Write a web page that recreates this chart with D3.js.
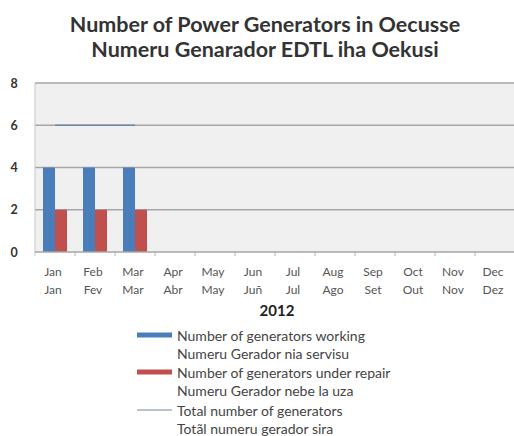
<!DOCTYPE html>
<html><head><meta charset="utf-8">
<script src="https://cdn.jsdelivr.net/npm/d3@7"></script>
<style>body{margin:0;background:#fff}svg{display:block}</style>
</head><body>
<script>
const monthsEn = ["Jan","Feb","Mar","Apr","May","Jun","Jul","Aug","Sep","Oct","Nov","Dec"];
const monthsTet = ["Jan","Fev","Mar","Abr","May","Juñ","Jul","Ago","Set","Out","Nov","Dez"];
const working = [4,4,4,null,null,null,null,null,null,null,null,null];
const repair = [2,2,2,null,null,null,null,null,null,null,null,null];
const total = [6,6,6,null,null,null,null,null,null,null,null,null];
const yTicks = [0,2,4,6,8];
const titleLines = ["Number of Power Generators in Oecusse","Numeru Genarador EDTL iha Oekusi"];
const xTitle = "2012";
const legendItems = [
  {type:"bar", color:"#4a7ebb", lines:["Number of generators working","Numeru Gerador nia servisu"]},
  {type:"bar", color:"#c0504d", lines:["Number of generators under repair","Numeru Gerador nebe la uza"]},
  {type:"line", color:"#7088a8", lines:["Total number of generators","Totãl numeru gerador sira"]}
];

const W=514,H=436;
const svg=d3.select("body").append("svg").attr("width",W).attr("height",H);
const font="Lato, 'Open Sans', sans-serif";
const L=35,R=515,T=83,B=252;

svg.append("rect").attr("x",L).attr("y",T).attr("width",R-L).attr("height",B-T).attr("fill","#f0f0f0");

const x=d3.scaleBand().domain(monthsEn).range([L,R]);
const y=d3.scaleLinear().domain([0,8]).range([B,T]);

svg.append("g").selectAll("line").data(yTicks.filter(d=>d>0)).join("line")
  .attr("x1",L).attr("x2",R).attr("y1",d=>y(d)).attr("y2",d=>y(d))
  .attr("stroke","#a6a6a6").attr("stroke-width",1.5);

svg.append("line").attr("x1",L).attr("x2",L).attr("y1",T).attr("y2",B+4).attr("stroke","#c8c8c8");

svg.append("g").selectAll("text").data(yTicks).join("text")
  .attr("x",14).attr("y",d=>y(d)+4.5).attr("text-anchor","middle")
  .attr("font-family",font).attr("font-size",12.5).attr("font-weight","bold").attr("fill","#333")
  .text(d=>d);

const bw=12;
svg.append("g").selectAll("rect").data(working.map((v,i)=>({v,m:monthsEn[i]})).filter(d=>d.v!=null)).join("rect")
  .attr("x",d=>x(d.m)+x.bandwidth()/2-bw).attr("width",bw)
  .attr("y",d=>y(d.v)).attr("height",d=>B-y(d.v)).attr("fill","#4a7ebb");
svg.append("g").selectAll("rect").data(repair.map((v,i)=>({v,m:monthsEn[i]})).filter(d=>d.v!=null)).join("rect")
  .attr("x",d=>x(d.m)+x.bandwidth()/2).attr("width",bw)
  .attr("y",d=>y(d.v)).attr("height",d=>B-y(d.v)).attr("fill","#c0504d");

svg.append("line").attr("x1",L).attr("x2",R).attr("y1",B).attr("y2",B).attr("stroke","#a6a6a6").attr("stroke-width",1.5);
svg.append("g").selectAll("line").data(monthsEn).join("line")
  .attr("x1",d=>x(d)+x.bandwidth()).attr("x2",d=>x(d)+x.bandwidth())
  .attr("y1",B).attr("y2",B+4).attr("stroke","#b0b0b0");

const line=d3.line().defined(d=>d.v!=null).x(d=>x(d.m)+x.bandwidth()/2).y(d=>y(d.v));
svg.append("path").datum(total.map((v,i)=>({v,m:monthsEn[i]})))
  .attr("d",line).attr("fill","none").attr("stroke","#7088a8").attr("stroke-width",1.5);

const xl=svg.append("g").attr("font-family",font).attr("font-size",12).attr("fill","#555").attr("text-anchor","middle");
xl.selectAll("text.a").data(monthsEn).join("text").attr("class","a")
  .attr("x",d=>x(d)+x.bandwidth()/2-2).attr("y",276).text(d=>d);
xl.selectAll("text.b").data(monthsTet).join("text").attr("class","b")
  .attr("x",(d,i)=>x(monthsEn[i])+x.bandwidth()/2-2).attr("y",294).text(d=>d);

svg.append("text").attr("x",277).attr("y",316).attr("text-anchor","middle")
  .attr("font-family",font).attr("font-size",15).attr("font-weight","bold").attr("fill","#222").text(xTitle);

svg.append("g").selectAll("text").data(titleLines).join("text")
  .attr("x",265).attr("y",(d,i)=>32+i*25).attr("text-anchor","middle")
  .attr("font-family",font).attr("font-size",21.5).attr("font-weight","bold").attr("fill","#333").text(d=>d);

const rows=[336,354,373,391,411,429];
const lg=svg.append("g").attr("font-family",font).attr("font-size",14).attr("fill","#444");
legendItems.forEach((it,i)=>{
  const yy=rows[i*2]-1;
  if(it.type==="bar") lg.append("rect").attr("x",137).attr("y",yy-2.5).attr("width",35).attr("height",5).attr("fill",it.color);
  else lg.append("line").attr("x1",137).attr("x2",172).attr("y1",yy).attr("y2",yy).attr("stroke",it.color).attr("stroke-width",1.2);
  it.lines.forEach((t,j)=>lg.append("text").attr("x",177).attr("y",rows[i*2+j]+5).text(t));
});
</script>
</body></html>
